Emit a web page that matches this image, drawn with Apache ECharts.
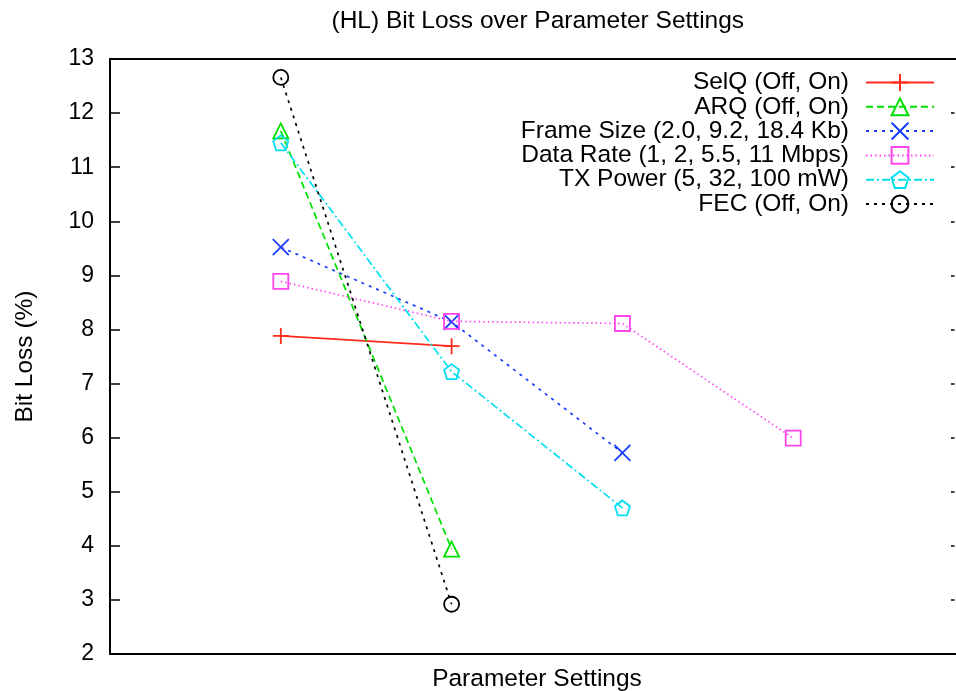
<!DOCTYPE html>
<html>
<head>
<meta charset="utf-8">
<script src="https://cdn.jsdelivr.net/npm/echarts@6/dist/echarts.min.js"></script>
<style>
html,body{margin:0;padding:0;background:#fff;overflow:hidden;}
#chart{width:956px;height:691px;}
</style>
</head>
<body>
<div id="chart"></div>
<script>
// ---- data ----
const seriesNames = [
  'SelQ (Off, On)',
  'ARQ (Off, On)',
  'Frame Size (2.0, 9.2, 18.4 Kb)',
  'Data Rate (1, 2, 5.5, 11 Mbps)',
  'TX Power (5, 32, 100 mW)',
  'FEC (Off, On)'
];
const selqValues      = [7.88, 7.69];
const arqValues       = [11.67, 3.94];
const frameSizeValues = [9.52, 8.14, 5.72];
const dataRateValues  = [8.89, 8.15, 8.11, 5.99];
const txPowerValues   = [11.45, 7.22, 4.70];
const fecValues       = [12.66, 2.92];
const yTicks = [2, 3, 4, 5, 6, 7, 8, 9, 10, 11, 12, 13];

const allValues = [selqValues, arqValues, frameSizeValues, dataRateValues, txPowerValues, fecValues];

// ---- styles ----
const FONT = 'Liberation Sans, Arial, Helvetica, sans-serif';
const colors = ['#ff2a1a', '#00e000', '#1a3cff', '#ff44ee', '#00e0ee', '#000000'];
const dashes = ['solid', [7, 4], [3, 5], [1.5, 3], [8, 3, 2, 3], [3, 5]];
const symbols = [
  'path://M0,8L16,8M8,0L8,16',
  'triangle',
  'path://M0,0L16,16M16,0L0,16',
  'rect',
  'path://M0,-1L0.951,-0.309L0.588,0.809L-0.588,0.809L-0.951,-0.309Z',
  'circle'
];
const symbolSizes = [16, 15, 16, 15, 15, 15];

const series = allValues.map((vals, i) => ({
  name: seriesNames[i],
  type: 'line',
  data: vals.map((v, k) => [k + 1, v]),
  symbol: symbols[i],
  symbolSize: symbolSizes[i],
  showAllSymbol: true,
  lineStyle: { color: colors[i], width: 1.7, type: dashes[i] },
  itemStyle: { color: 'rgba(0,0,0,0)', borderColor: colors[i], borderWidth: 1.8 },
  emphasis: { disabled: true },
  animation: false,
  z: 2 + i
}));

const legendRowTop = 70;
const legendRowStep = 24.3;
const legends = seriesNames.map((n, i) => ({
  data: [n],
  orient: 'vertical',
  align: 'right',
  right: 21,
  top: legendRowTop + i * legendRowStep,
  itemWidth: 68,
  itemHeight: 21,
  padding: 0,
  selectedMode: false,
  textStyle: { fontFamily: FONT, fontSize: 24.5, color: '#000', padding: [0, 12, 0, 0] }
}));

const TITLE_W = 411;
function axisLine() { return { show: true, onZero: false, lineStyle: { color: '#000', width: 2 } }; }
const chart = echarts.init(document.getElementById('chart'), null, { renderer: 'canvas' });
chart.setOption({
  backgroundColor: '#fff',
  animation: false,
  graphic: [{
    type: 'text',
    left: 537 - TITLE_W / 2,
    top: 9,
    style: { text: '(HL) Bit Loss over Parameter Settings', font: '24.5px ' + FONT, fill: '#000' }
  }, {
    type: 'rect',
    z: 100,
    shape: { x: 954.5, y: 61, width: 3, height: 592 },
    style: { fill: '#fff' },
    silent: true
  }],
  legend: legends,
  grid: { left: 110, width: 854, top: 59, height: 595, show: false,
    outerBoundsMode: 'none', containLabel: false },
  xAxis: [{
    type: 'value', min: 0, max: 5, position: 'bottom',
    name: 'Parameter Settings', nameLocation: 'middle', nameGap: 13,
    nameTextStyle: { fontFamily: FONT, fontSize: 24.5, color: '#000' },
    axisLine: axisLine(), axisTick: { show: false }, axisLabel: { show: false },
    splitLine: { show: false }
  }, {
    type: 'value', min: 0, max: 5, position: 'top',
    axisLine: axisLine(), axisTick: { show: false }, axisLabel: { show: false },
    splitLine: { show: false }
  }],
  yAxis: [{
    type: 'value', min: 2, max: 13, interval: 1, position: 'left',
    name: 'Bit Loss (%)', nameLocation: 'middle', nameGap: 72, nameRotate: 90,
    nameTextStyle: { fontFamily: FONT, fontSize: 24.5, color: '#000' },
    axisLine: axisLine(),
    axisTick: { show: true, inside: true, length: 10, lineStyle: { color: '#000', width: 1.5 } },
    axisLabel: { fontFamily: FONT, fontSize: 23, color: '#000', margin: 16,
      formatter: v => (yTicks.indexOf(v) >= 0 ? String(v) : '') },
    splitLine: { show: false }
  }, {
    type: 'value', min: 2, max: 13, interval: 1, position: 'right', offset: -3,
    axisLine: { show: false, onZero: false },
    axisTick: { show: true, inside: true, length: 10, lineStyle: { color: '#000', width: 1.5 } },
    axisLabel: { show: false }, splitLine: { show: false }
  }],
  series: series
});
</script>
</body>
</html>
